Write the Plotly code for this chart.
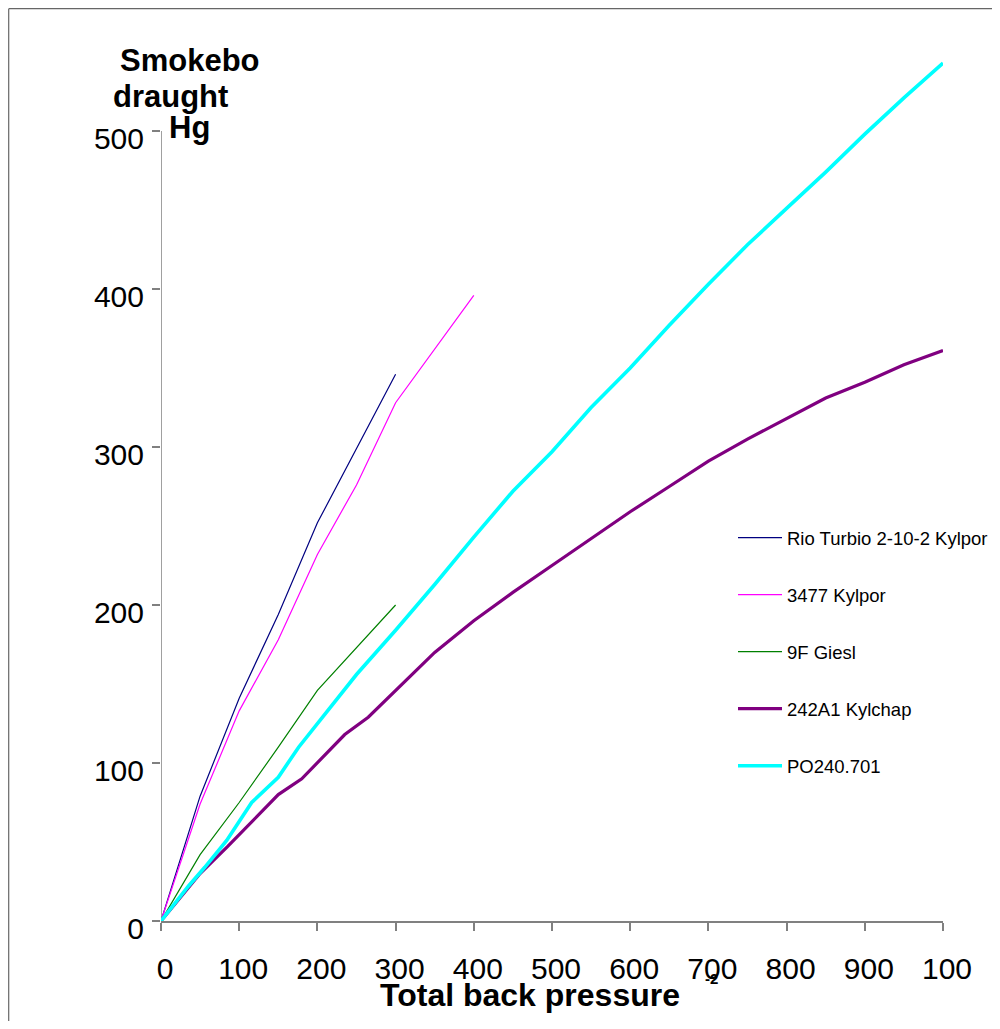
import plotly.graph_objects as go

# ---- data ----
rio_x = [0, 50, 100, 150, 200, 250, 300]
rio_y = [0, 79, 141, 194, 252, 299, 346]

k3477_x = [0, 50, 100, 150, 200, 250, 300, 400]
k3477_y = [0, 74, 133, 178, 232, 276, 328, 396]

giesl_x = [0, 50, 100, 150, 200, 250, 300]
giesl_y = [0, 42, 75, 110, 146, 173, 200]

kylchap_x = [0, 50, 85, 115, 150, 180, 205, 235, 265, 312, 350, 400, 450, 500,
             550, 600, 650, 700, 750, 800, 850, 900, 950, 1000]
kylchap_y = [0, 30, 47, 62, 80, 90, 103, 118, 129, 152, 170, 190, 208, 225,
             242, 259, 275, 291, 305, 318, 331, 341, 352, 361]

po_x = [0, 35, 56, 84, 116, 150, 176, 200, 250, 300, 350, 400, 450, 500,
        550, 600, 650, 700, 750, 800, 850, 900, 950, 1000]
po_y = [0, 22, 34, 51, 75, 91, 110, 125, 156, 184, 213, 243, 272, 297,
        325, 350, 377, 403, 428, 451, 474, 498, 521, 543]

x_tickvals = [0, 100, 200, 300, 400, 500, 600, 700, 800, 900, 1000]
x_ticktext = ["0", "100", "200", "300", "400", "500", "600", "700", "800", "900", "100"]
y_tickvals = [0, 100, 200, 300, 400, 500]

series = [
    ("Rio Turbio 2-10-2 Kylpor", rio_x, rio_y, "#000080", 1.2),
    ("3477 Kylpor", k3477_x, k3477_y, "#FF00FF", 1.2),
    ("9F Giesl", giesl_x, giesl_y, "#008000", 1.2),
    ("242A1 Kylchap", kylchap_x, kylchap_y, "#800080", 3.2),
    ("PO240.701", po_x, po_y, "#00FFFF", 3.6),
]

FONT = "Arial, Liberation Sans, sans-serif"

fig = go.Figure()
for i, (name, xs, ys, col, w) in enumerate(series):
    fig.add_trace(go.Scatter(x=xs, y=ys, mode="lines", name=name,
                             legendgroup=f"g{i}",
                             line=dict(color=col, width=w)))

# page body has an 8px margin, so the figure is drawn offset by 8px;
# size the figure so the page does not overflow the window
OFF = 8
W, H = 1000 - OFF, 1029 - 2 * OFF
L = 161 - OFF
T = 52 - OFF
R = W - (943 - OFF)
B = H - (921 - OFF)
pw, ph = W - L - R, H - T - B


def px(xp):
    return (xp - OFF - L) / pw


def py(yp):
    return (H - B - (yp - OFF)) / ph


fig.update_layout(
    width=W, height=H, autosize=False,
    margin=dict(l=L, r=R, t=T, b=B, pad=0, autoexpand=False),
    paper_bgcolor="white", plot_bgcolor="white",
    font=dict(family=FONT, color="black"),
    showlegend=True,
    legend=dict(x=px(733), y=py(519), xanchor="left", yanchor="top",
                font=dict(size=18.5, family=FONT, color="black"),
                bgcolor="rgba(0,0,0,0)", borderwidth=0,
                traceorder="grouped", tracegroupgap=30, itemwidth=44),
    xaxis=dict(range=[0, 1000], tickvals=x_tickvals, ticktext=x_ticktext,
               showline=True, linecolor="#808080", linewidth=1.5,
               ticks="outside", ticklen=8, tickwidth=1.5, tickcolor="#808080",
               showgrid=False, zeroline=False,
               tickfont=dict(size=30, family=FONT, color="black"),
               ticklabelstandoff=12, ticklabelshift=4),
    yaxis=dict(range=[0, 550], tickvals=y_tickvals,
               showline=False,
               ticks="outside", ticklen=8, tickwidth=1.5, tickcolor="#808080",
               showgrid=False, zeroline=False,
               tickfont=dict(size=30, family=FONT, color="black"),
               ticklabelstandoff=2, ticklabelshift=7),
)

# y axis line only from 0 to 500
fig.add_shape(type="line", xref="x", yref="y", x0=0, x1=0, y0=0, y1=500,
              line=dict(color="#808080", width=1.5), layer="below")

# outer frame lines (top and left)
fig.add_shape(type="line", xref="paper", yref="paper",
              x0=px(8.7), x1=px(1000), y0=py(8.7), y1=py(8.7),
              line=dict(color="#666666", width=1.2))
fig.add_shape(type="line", xref="paper", yref="paper",
              x0=px(8.7), x1=px(8.7), y0=py(8.7), y1=py(1029),
              line=dict(color="#666666", width=1.2))

# y-axis title (three lines)
for txt, cx, cy in [("Smokebo", 190, 60), ("draught", 170, 96), ("Hg", 189, 128)]:
    fig.add_annotation(text=f"<b>{txt}</b>", xref="paper", yref="paper",
                       x=px(cx), y=py(cy), xanchor="center", yanchor="middle",
                       showarrow=False, font=dict(size=31, family=FONT, color="black"))

# x-axis title
fig.add_annotation(text="<b>Total back pressure</b>", xref="paper", yref="paper",
                   x=px(530), y=py(995), xanchor="center", yanchor="middle",
                   showarrow=False, font=dict(size=32, family=FONT, color="black"))
fig.add_annotation(text="<b>-2</b>", xref="paper", yref="paper",
                   x=px(711), y=py(978), xanchor="center", yanchor="middle",
                   showarrow=False, font=dict(size=15, family=FONT, color="black"))

fig.write_html("out.html")
